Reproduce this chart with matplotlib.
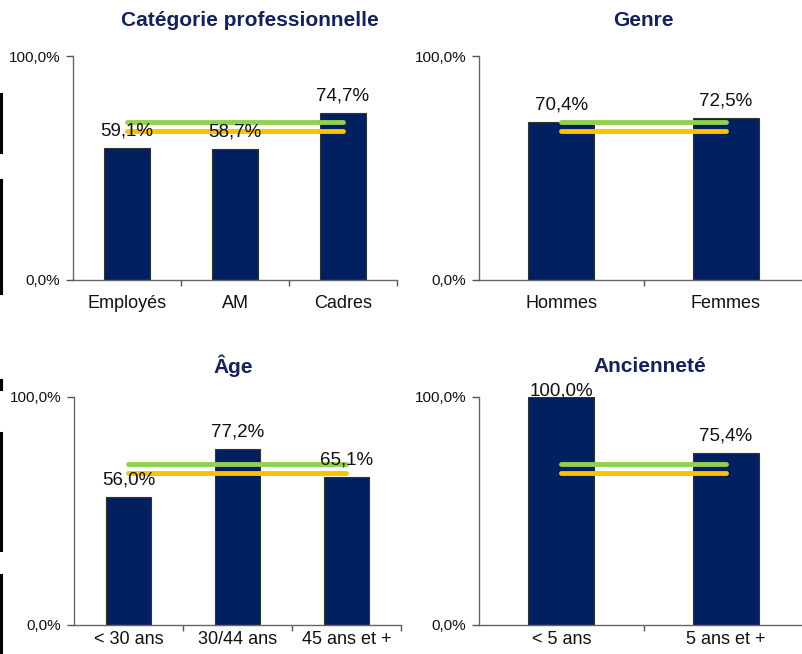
import matplotlib
matplotlib.use("Agg")
import matplotlib.pyplot as plt
from matplotlib.lines import Line2D

plt.rcParams['font.family'] = ['Liberation Sans', 'DejaVu Sans']

# data
cat_labels = ['Employés', 'AM', 'Cadres']
cat_values = [59.1, 58.7, 74.7]
genre_labels = ['Hommes', 'Femmes']
genre_values = [70.4, 72.5]
age_labels = ['< 30 ans', '30/44 ans', '45 ans et +']
age_values = [56.0, 77.2, 65.1]
anc_labels = ['< 5 ans', '5 ans et +']
anc_values = [100.0, 75.4]
ref_green = 70.7
ref_yellow = 66.5

titles = ['Catégorie professionnelle', 'Genre', 'Âge', 'Ancienneté']

bar_color = '#002060'
title_color = '#14215A'
W, H = 803, 654

fig = plt.figure(figsize=(W / 100, H / 100), dpi=100)


def px_axes(x0, y0, x1, y1):
    # pixel box (top-left origin) -> figure axes
    return fig.add_axes([x0 / W, 1 - y1 / H, (x1 - x0) / W, (y1 - y0) / H])


def panel(ax, labels, values, width, lpad):
    n = len(labels)
    x = list(range(n))
    ax.bar(x, values, width=width, color=bar_color, edgecolor='#333333',
           linewidth=0.8, zorder=2)
    ax.plot([0, n - 1], [ref_green, ref_green], color='#92D050', lw=3.5,
            solid_capstyle='round', zorder=3)
    ax.plot([0, n - 1], [ref_yellow, ref_yellow], color='#FFC000', lw=3.5,
            solid_capstyle='round', zorder=3)
    for xi, v in zip(x, values):
        off = 6 if v < 95 else -2
        ax.annotate(('%.1f%%' % v).replace('.', ','), (xi, v),
                    xytext=(0, off), textcoords='offset points',
                    ha='center', va='bottom', fontsize=13.5,
                    color='#111111', annotation_clip=False, zorder=4)
    ax.set_xlim(-0.5, n - 0.5)
    ax.set_ylim(0, 100)
    ax.set_yticks([0, 100])
    ax.set_yticklabels(['0,0%', '100,0%'], fontsize=11)
    ax.set_xticks(x)
    ax.set_xticklabels(labels, fontsize=13)
    ax.set_xticks([i + 0.5 for i in range(n)], minor=True)
    ax.tick_params(axis='x', which='major', length=0, pad=lpad)
    ax.tick_params(axis='x', which='minor', length=4, width=1, colors='#555555')
    ax.tick_params(axis='y', length=5, width=1, pad=4, colors='#555555',
                   labelcolor='#111111')
    ax.tick_params(axis='x', labelcolor='#111111')
    for s in ['top', 'right']:
        ax.spines[s].set_visible(False)
    for s in ['left', 'bottom']:
        ax.spines[s].set_color('#666666')
        ax.spines[s].set_linewidth(1)


ax1 = px_axes(73, 56, 397, 280)
panel(ax1, cat_labels, cat_values, 0.42, 11)
ax2 = px_axes(479, 56, 808, 280)
panel(ax2, genre_labels, genre_values, 0.40, 11)
ax3 = px_axes(74, 397, 401, 625)
panel(ax3, age_labels, age_values, 0.41, 4)
ax4 = px_axes(479, 397, 808, 625)
panel(ax4, anc_labels, anc_values, 0.40, 4)

title_pos = [(250, 20), (643, 20), (233, 366), (650, 366)]
for t, (tx, ty) in zip(titles, title_pos):
    fig.text(tx / W, 1 - ty / H, t, ha='center', va='center', fontsize=15,
             fontweight='bold', color=title_color)

# dark marks along the left edge of the original image
for y0, y1 in [(94, 152), (180, 293), (380, 389), (433, 550), (575, 654)]:
    fig.add_artist(Line2D([1.2 / W, 1.2 / W], [1 - y0 / H, 1 - y1 / H],
                          transform=fig.transFigure, color='black', lw=2.2))

fig.savefig('out.png', dpi=100)
